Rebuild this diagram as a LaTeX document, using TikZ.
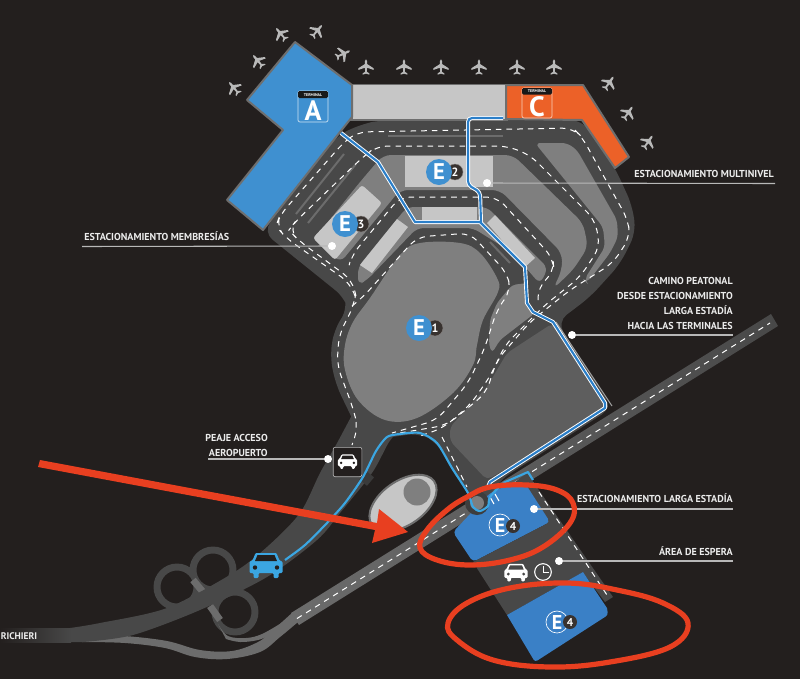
\documentclass[tikz,border=0pt]{standalone}
\usepackage{fontspec}
\setmainfont{PT Sans}
\usetikzlibrary{calc,shapes.geometric}
\definecolor{bg}{HTML}{231F1E}
\definecolor{road}{HTML}{484848}
\definecolor{ribbon}{HTML}{6C6C6C}
\definecolor{midgray}{HTML}{7F7F7F}
\definecolor{biggray}{HTML}{5E5E5E}
\definecolor{lightgray}{HTML}{C6C6C6}
\definecolor{edgegray}{HTML}{6E6E6E}
\definecolor{termblue}{HTML}{3F90D0}
\definecolor{parkblue}{HTML}{3A80C6}
\definecolor{termorange}{HTML}{EC6128}
\definecolor{walkblue}{HTML}{2B7FC9}
\definecolor{accessblue}{HTML}{3BA6E2}
\definecolor{redmark}{HTML}{E83F20}
\definecolor{numdark}{HTML}{38322F}
\definecolor{planec}{HTML}{B9B9B9}
\definecolor{leader}{HTML}{B8B8B8}
\tikzset{
  lanedash/.style={draw=white,line width=0.75pt,dash pattern=on 4.2pt off 3.8pt},
  walkhalo/.style={draw=white,line width=3pt,line join=round},
  walkcore/.style={draw=walkblue,line width=1.6pt,line join=round},
  redring/.style={draw=redmark,line width=3.9pt},
  lab/.style={text=white!92!black,font=\fontsize{7.55}{11.4}\selectfont\bfseries,inner sep=0pt},
  leaderline/.style={draw=leader,line width=0.8pt},
  dotmark/.style={circle,fill=white,inner sep=0pt,minimum size=6pt},
  ebig/.style={circle,fill=termblue,text=white,inner sep=0pt,minimum size=19.5pt,font=\fontsize{17}{17}\selectfont\bfseries},
  esmall/.style={circle,fill=parkblue,draw=white,line width=0.5pt,text=white,inner sep=0pt,minimum size=16.5pt,font=\fontsize{15}{15}\selectfont\bfseries},
  numbig/.style={circle,fill=numdark,draw=white!40!numdark,line width=0.3pt,text=white,inner sep=0pt,minimum size=12pt,font=\fontsize{9}{9}\selectfont\bfseries},
  numsmall/.style={circle,fill=numdark,text=white,inner sep=0pt,minimum size=10.5pt,font=\fontsize{8.5}{8.5}\selectfont\bfseries},
}
\newcommand{\planeicon}[3]{%
  \begin{scope}[shift={(#1,#2)},rotate=#3,scale=0.85]
    \fill[planec] (0,-9) -- (1.3,-7) -- (1.3,-3.5) -- (9,1.5) -- (9,3.5) -- (1.3,0.8) -- (1,5.5) -- (4,7.6) -- (4,9) -- (0,7.8) -- (-4,9) -- (-4,7.6) -- (-1,5.5) -- (-1.3,0.8) -- (-9,3.5) -- (-9,1.5) -- (-1.3,-3.5) -- (-1.3,-7) -- cycle;
  \end{scope}}
\newcommand{\caricon}[5]{%
  \begin{scope}[shift={(#1,#2)},scale=#3]
    \fill[#4,rounded corners=0.8pt] (-10.5,-13) -- (10.5,-13) -- (13.5,-5.5) -- (16.5,-4.5) -- (16.5,7) -- (12.5,7) -- (12.5,12) -- (7.5,12) -- (7.5,7) -- (-7.5,7) -- (-7.5,12) -- (-12.5,12) -- (-12.5,7) -- (-16.5,7) -- (-16.5,-4.5) -- (-13.5,-5.5) -- cycle;
    \fill[#5] (-8.5,-11) -- (8.5,-11) -- (11,-5) -- (-11,-5) -- cycle;
    \fill[#5] (-11,1.5) circle (2.2) (11,1.5) circle (2.2);
  \end{scope}}
\begin{document}
\begin{tikzpicture}[x=0.75pt,y=-0.75pt]
\useasboundingbox (0,0) rectangle (800,679);
\fill[bg] (0,0) rectangle (800,679);
%--- clover
\draw[road,line width=5.2pt] (177,587) circle (20) (213,570) circle (20);
\draw[road,line width=5.2pt] (235,612) circle (20);
\draw[ribbon,line width=5.2pt] (193,580) -- (208,598);
\draw[ribbon,line width=5.2pt] (210,606) -- (220,620);
%--- ribbons and highway
\fill[ribbon] plot[smooth,tension=.6] coordinates {(82,634) (125,636) (167,641) (200,650) (232,651) (258,642) (273,630) (293,612)} -- (300,624) -- plot[smooth,tension=.6] coordinates {(298,622) (280,637) (260,652) (227,659) (195,657) (165,648) (125,643) (82,642)} -- cycle;
\fill[ribbon] plot[smooth,tension=.6] coordinates {(218,624) (228,636) (246,638) (262,634) (283,622)} -- (283,628) -- plot[smooth,tension=.6] coordinates {(273,634) (258,640) (240,642) (226,639)} -- cycle;
\shade[left color=ribbon,right color=road] (291,613) -- (771,314) -- (778,326) -- (299,625) -- cycle;
\draw[lanedash] (297,618.5) -- (770,323);
%--- main access road
\fill[road] plot[smooth,tension=.5] coordinates {(352,415) (336,445) (320,473) (300,513) (267,547) (233,573) (167,608) (100,623) (70,628)} -- (70,642) -- plot[smooth,tension=.5] coordinates {(83,642) (133,635) (200,610) (267,577) (317,540) (340,513) (372,473) (389,442) (400,430)} -- cycle;
\shade[left color=bg,right color=road] (0,628) rectangle (71,642);
%--- road silhouette with big parking
\fill[road,rounded corners=9pt] (263,232) -- (345,298) -- (348,308) -- (334,330) -- (330,357) -- (336,385) -- (352,418) -- (362,440) -- (385,438) -- (420,433) -- (437,443) -- (468,493) -- (480,510) -- (500,480) -- (612,408) -- (557,322) -- (590,297) -- (620,264) -- (636,232) -- (632,205) -- (615,168) -- (582,120) -- (382,120) -- (362,124) -- (338,135) -- cycle;
%--- gray zones
\fill[midgray,rounded corners=6pt] (360,182) -- (383,155) -- (513,155) -- (583,223) -- (588,247) -- (573,270) -- (553,289) -- (562,270) -- (562,253) -- (500,190) -- (400,190) -- (340,263) -- (316,237) -- cycle;
\fill[midgray,rounded corners=5pt] (407,207) -- (487,207) -- (548,268) -- (540,284) -- (513,253) -- (473,228) -- (417,228) -- (367,280) -- (358,285) -- (358,267) -- cycle;
\fill[midgray,rounded corners=4pt] (535,143) -- (567,143) -- (577,150) -- (617,220) -- (618,237) -- (610,253) -- (587,283) -- (584,280) -- (605,247) -- (603,227) -- cycle;
\fill[midgray,rounded corners=3pt] (512,285) -- (527,283) -- (527,305) -- (535,313) -- (500,340) -- (492,353) -- (489,345) -- (490,320) -- (497,303) -- cycle;
\fill[midgray] plot[smooth cycle,tension=.6] coordinates {(420,243) (460,243) (480,253) (497,278) (498,292) (483,320) (477,345) (473,365) (453,393) (417,418) (385,420) (358,400) (345,370) (345,345) (353,322) (370,298) (400,255)};
\fill[biggray,rounded corners=4pt] (553,323) -- (610,407) -- (487,480) -- (450,441) -- (450,427) -- (487,387) -- (507,353) -- cycle;
\draw[leader!85!black,line width=0.8pt] (556,322) -- (612,406);
%--- light rectangles
\fill[lightgray] (405,156) rectangle (493,187);
\fill[lightgray] (422,207) rectangle (477,222);
\fill[lightgray] (397,219) -- (408,227) -- (372,273) -- (360,265) -- cycle;
\fill[lightgray] (495,215) -- (535,258) -- (525,267) -- (487,223) -- cycle;
\fill[lightgray,rounded corners=2pt] (362,185) -- (382,203) -- (335,260) -- (313,238) -- cycle;
%--- thin stripes
\draw[ribbon,line width=1.5pt] (388,136) -- (503,136);
\draw[ribbon,line width=1.5pt] (296,214) -- (344,154);
\draw[ribbon,line width=1.5pt] (308,223) -- (356,164);
\draw[ribbon,line width=1.5pt] (490,242) -- (510,263);
%--- lane dashes
\draw[lanedash,rounded corners=8pt] (355,296) -- (350,283) -- (286,238) -- (276,226) -- (280,215) -- (343,143) -- (357,132) -- (573,128) -- (582,137) -- (628,220) -- (630,237) -- (613,263) -- (570,290) -- (530,322) -- (497,360) -- (486,393) -- (447,425) -- (400,433);
\draw[lanedash,rounded corners=8pt] (356,296) -- (352,280) -- (298,240) -- (289,230) -- (295,222) -- (363,157) -- (377,146) -- (507,146) -- (530,155) -- (595,220) -- (600,247) -- (580,277) -- (545,305) -- (505,345) -- (491,375) -- (470,405) -- (443,428) -- (420,436);
\draw[lanedash,rounded corners=8pt] (350,262) -- (352,255) -- (400,197) -- (497,197) -- (553,258) -- (554,272) -- (538,287) -- (538,300);
\draw[lanedash,rounded corners=8pt] (352,306) -- (363,297) -- (417,237) -- (470,233) -- (507,273) -- (511,290) -- (497,310) -- (484,350) -- (468,383) -- (437,420) -- (392,433);
\draw[lanedash,rounded corners=8pt] (355,298) -- (354,305) -- (339,335) -- (337,365) -- (353,408) -- (358,428) -- (352,445);
\draw[lanedash] (442,437) -- (467,487);
%--- hole with egg
\fill[lightgray,draw=edgegray,line width=1.5pt,rotate around={35:(403,503)}] (403,503) ellipse [x radius=38,y radius=22];
\fill[midgray] (417,492) circle (13.5);
\fill[road!80!black,rotate around={-40:(367,478)}] (362,473) rectangle (372,484);
%--- E4 parking and strip
\fill[road] (527,473) -- (613,597) -- (605,602) -- (515,482) -- cycle;
\draw[lanedash] (533,483) -- (607,595);
\fill[parkblue,rounded corners=3pt] (453,532) -- (490,493) -- (515,482) -- (525,483) -- (550,522) -- (473,562) -- cycle;
\fill[road] (473,562) -- (550,522) -- (583,572) -- (507,615) -- cycle;
\fill[parkblue] (507,615) -- (583,572) -- (607,608) [rounded corners=2pt] -- (608,615) -- (535,662) [sharp corners] -- cycle;
\draw[white,line width=0.8pt] (490,497) -- (494,504) (495,494) -- (499,501);
%--- junction circle
\fill[road!85!black] (477,503) circle (12);
\fill[midgray] (477,503) circle (7);
%--- terminals
\fill[edgegray] (350,84) rectangle (508,121);
\fill[lightgray] (353,85) rectangle (505,119);
\fill[termblue,draw=edgegray,line width=1.5pt,line join=round] (295,42) -- (352,85) -- (352,117) -- (340,132) -- (263,230) -- (227,200) -- (283,130) -- (247,100) -- cycle;
\fill[termorange,draw=edgegray,line width=1.5pt,line join=round] (506,85) -- (583,85) -- (629,157) -- (615,168) -- (582,120) -- (506,119) -- cycle;
%--- walkways
\draw[walkhalo] (341,133) -- (378,162) -- (415,222) -- (480,222) -- (525,267) -- (527,303) -- (533,312) -- (553,322) -- (605,403) -- (605,408) -- (490,482) -- (488,487);
\draw[walkhalo,rounded corners=3pt] (503,118) -- (468,118) -- (468,185) -- (480,192) -- (481,222);
\draw[walkcore] (341,133) -- (378,162) -- (415,222) -- (480,222) -- (525,267) -- (527,303) -- (533,312) -- (553,322) -- (605,403) -- (605,408) -- (490,482) -- (488,487);
\draw[walkcore,rounded corners=3pt] (503,118) -- (468,118) -- (468,185) -- (480,192) -- (481,222);
%--- access road line
\draw[accessblue,line width=1.6pt] plot[smooth,tension=.45] coordinates {(285,560) (305,545) (327,523) (345,503) (363,477) (376,451) (387,437) (400,434) (420,433) (437,443) (452,468) (468,493) (473,507) (480,511) (488,506) (490,497) (503,483)};
\draw[accessblue,line width=1.6pt,line join=round] (503,483) -- (528,472) -- (533,480);
%--- planes
\planeicon{366}{67}{0}\planeicon{404}{67}{0}\planeicon{441}{67}{0}\planeicon{479}{67}{0}\planeicon{517}{67}{0}\planeicon{554}{67}{0}
\planeicon{343}{54}{-65}\planeicon{317}{31}{-40}\planeicon{281}{34}{40}\planeicon{258}{61}{40}\planeicon{234}{88}{40}
\planeicon{609}{83}{-35}\planeicon{628}{113}{-35}\planeicon{648}{142}{-35}
%--- terminal badges
\draw[white!75!termblue,line width=0.5pt,rounded corners=1.5pt] (298,91) rectangle (328,122);
\fill[black!90!white,rounded corners=1pt] (298,91) rectangle (328,98);
\node[text=white,font=\fontsize{3}{3}\selectfont\bfseries,inner sep=0pt] (terma) at (313,94.7) {TERMINAL};
\node[text=white,font=\fontsize{21}{21}\selectfont\bfseries,inner sep=0pt] (lettera) at (313,111) {A};
\draw[white!70!termorange,line width=0.5pt,rounded corners=1.5pt] (522,88) rectangle (552,118);
\fill[black!90!white,rounded corners=1pt] (522,88) rectangle (552,94.5);
\node[text=white,font=\fontsize{3}{3}\selectfont\bfseries,inner sep=0pt] (termc) at (537,91.5) {TERMINAL};
\node[text=white,font=\fontsize{21}{21}\selectfont\bfseries,inner sep=0pt] (letterc) at (537,106.5) {C};
%--- E icons
\node[numbig] (n1) at (435,328) {1};
\node[ebig] (e1) at (419,328) {E};
\node[numbig] (n2) at (455,172) {2};
\node[ebig] (e2) at (439,172) {E};
\node[numbig] (n3) at (361,224) {3};
\node[ebig] (e3) at (345,224) {E};
\node[esmall] (e4a) at (500,525) {E};
\node[numsmall] (n4a) at (513,526) {4};
\node[esmall] (e4b) at (557,622) {E};
\node[numsmall] (n4b) at (570,622) {4};
%--- toll sign and icons
\node[draw=white!70!black,fill=bg,line width=0.5pt,rounded corners=1.5pt,minimum width=21.5pt,minimum height=22pt,inner sep=0pt] (toll) at (347.5,462) {};
\caricon{347.5}{462}{0.58}{white}{bg}
\caricon{266}{566}{1}{accessblue}{bg}
\caricon{516}{573}{0.7}{white}{road}
\node[circle,draw=white,line width=0.8pt,minimum size=12.5pt,inner sep=0pt] (clock) at (543,572) {};
\draw[white,line width=0.5pt] (clock.center) -- ($(clock.center)+(0,-6)$) (clock.center) -- ($(clock.center)+(6,0)$);
%--- leader lines and dots
\node[dotmark] (d1) at (487,183) {};
\coordinate (c1) at (775,183.5);
\draw[leaderline] (d1) -- (c1);
\node[dotmark] (d2) at (332,246) {};
\coordinate (c2) at (82,246.5);
\draw[leaderline] (d2) -- (c2);
\node[dotmark] (d3) at (572,335) {};
\coordinate (c3) at (733,335);
\draw[leaderline] (d3) -- (c3);
\node[dotmark] (d4) at (328,459) {};
\coordinate (c4) at (208,459);
\draw[leaderline] (d4) -- (c4);
\node[dotmark] (d5) at (534,509) {};
\coordinate (c5) at (733,509);
\draw[leaderline] (d5) -- (c5);
\node[dotmark] (d6) at (559,561) {};
\coordinate (c6) at (733,561);
\draw[leaderline] (d6) -- (c6);
%--- labels
\node[lab,anchor=base east] (lmulti) at (774,177) {ESTACIONAMIENTO MULTINIVEL};
\node[lab,anchor=base west] (lmemb) at (84,240) {ESTACIONAMIENTO MEMBRESÍAS};
\node[lab,anchor=south east,align=right] (lcamino) at (733,330) {CAMINO PEATONAL\\DESDE ESTACIONAMIENTO\hspace*{2pt}\\LARGA ESTADÍA\\HACIA LAS TERMINALES};
\node[lab,anchor=south east,align=right] (lpeaje) at (268,457) {PEAJE ACCESO\\AEROPUERTO};
\node[lab,anchor=base east] (llarga) at (733,502) {ESTACIONAMIENTO LARGA ESTADÍA};
\node[lab,anchor=base east] (larea) at (733,555) {ÁREA DE ESPERA};
\node[lab,anchor=base west,font=\fontsize{7.2}{9}\selectfont\bfseries] (lrich) at (0.5,639.5) {RICHIERI};
%--- red annotations
\fill[redmark] (40,460) -- (377,523) -- (379,509) -- (408,532) -- (372,543) -- (375,530) -- (38,467) -- cycle;
\draw[redring] plot[smooth cycle,tension=.65] coordinates {(490,487) (527,485) (557,490) (573,503) (570,523) (543,547) (510,560) (470,565) (437,560) (420,548) (427,530) (447,510) (467,497)};
\draw[redring] plot[smooth cycle,tension=.65] coordinates {(567,583) (617,590) (663,603) (688,623) (670,647) (610,662) (550,667) (493,660) (457,640) (448,623) (467,603) (510,588)};
\end{tikzpicture}
\end{document}
